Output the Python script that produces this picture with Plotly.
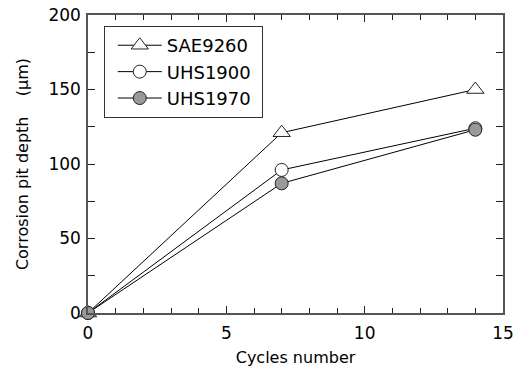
import plotly.graph_objects as go

cycles = [0, 7, 14]
sae9260 = [0, 121, 150]
uhs1900 = [0, 96, 124]
uhs1970 = [0, 87, 123]

FONT = "DejaVu Sans"
fig = go.Figure()

def add(name, y, symbol, fill):
    fig.add_trace(go.Scatter(
        x=cycles, y=y, name=name + "\u00a0", mode="lines+markers",
        line=dict(color="black", width=1),
        marker=dict(symbol=symbol, size=13 if symbol != "triangle-up" else 15,
                    color=fill, line=dict(color="#222", width=1)),
        cliponaxis=False,
    ))

add("SAE9260", sae9260, "triangle-up", "white")
add("UHS1900", uhs1900, "circle", "white")
add("UHS1970", uhs1970, "circle", "#999999")

axis_common = dict(
    showline=True, linecolor="#555", linewidth=1.5, mirror="ticks",
    ticks="inside", ticklen=7, tickwidth=1.2, tickcolor="#222",
    showgrid=False, zeroline=False, automargin=False,
    tickfont=dict(family=FONT, size=17, color="black"),
)

fig.update_xaxes(range=[0, 15], tickvals=[0, 5, 10, 15],
                 minor=dict(ticks="inside", dtick=1, ticklen=5, tickcolor="#222"),
                 ticklabelstandoff=4,
                 title=dict(text="Cycles number", font=dict(family=FONT, size=16, color="black"), standoff=10),
                 **axis_common)
fig.update_yaxes(range=[0, 200], tickvals=[0, 50, 100, 150, 200],
                 minor=dict(ticks="inside", dtick=25, ticklen=7, tickcolor="#222"),
                 ticklabelstandoff=2,
                 title=dict(text="Corrosion pit depth\u00a0\u00a0\u00a0\u00a0(μm)", font=dict(family=FONT, size=16, color="black"), standoff=16),
                 **axis_common)

fig.update_layout(
    width=523, height=367,
    margin=dict(l=88, r=20, t=15, b=54),
    paper_bgcolor="white", plot_bgcolor="white",
    showlegend=True,
    legend=dict(x=0.038, y=0.963, xanchor="left", yanchor="top",
                bordercolor="#333", borderwidth=1, bgcolor="white",
                font=dict(family=FONT, size=18, color="black"),
                tracegroupgap=0, itemwidth=44, indentation=8),
)

fig.write_html("out.html")
